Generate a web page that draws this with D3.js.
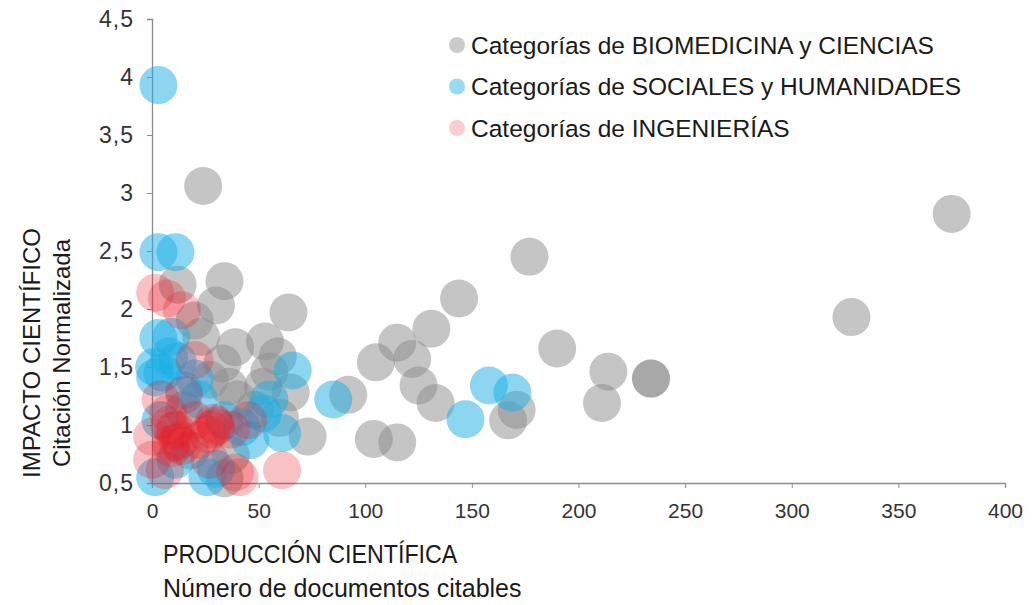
<!DOCTYPE html>
<html>
<head>
<meta charset="utf-8">
<script src="https://cdn.jsdelivr.net/npm/d3@7"></script>
<style>
  body { margin: 0; background: #fff; }
  .axis path, .axis line { stroke: #8c8c8c; }
  .y.axis text { font-family: "Liberation Sans", Arial, sans-serif; font-size: 23px; letter-spacing: 1px; fill: #333; }
  .x.axis text { font-family: "Liberation Sans", Arial, sans-serif; font-size: 21px; fill: #333; }
  .label { font-family: "Liberation Sans", Arial, sans-serif; font-size: 24px; fill: #1a1a1a; }
  .xlabel { font-family: "Liberation Sans", Arial, sans-serif; font-size: 25px; fill: #1a1a1a; }
  .legend text { font-family: "Liberation Sans", Arial, sans-serif; font-size: 24.5px; fill: #1a1a1a; }
</style>
</head>
<body>
<script>
// Set the dimensions of the canvas / graph
var margin = {top: 19, right: 30, bottom: 122, left: 152},
    width = 1035 - margin.left - margin.right,
    height = 605 - margin.top - margin.bottom;

// series names
var seriesNames = ["Categorías de BIOMEDICINA y CIENCIAS",
                   "Categorías de SOCIALES y HUMANIDADES",
                   "Categorías de INGENIERÍAS"];

// BIOMEDICINA y CIENCIAS: documentos citables / citación normalizada
var bioX = [24, 375, 177, 144, 328, 190, 131, 115, 122, 105, 125, 133, 92, 104, 115,
            214, 211, 234, 234, 171, 167, 64, 34, 12, 30, 53, 39, 59, 65, 52, 73,
            20, 23, 33, 36, 40, 55, 48, 27, 37, 34, 15, 18, 60];
var bioY = [3.06, 2.82, 2.45, 2.09, 1.93, 1.66, 1.83, 1.71, 1.57, 1.54, 1.34, 1.19, 1.26, 0.88, 0.85,
            1.46, 1.19, 1.40, 1.40, 1.13, 1.04, 1.97, 2.24, 2.21, 2.03, 1.72, 1.67, 1.59, 1.28, 1.33, 0.90,
            1.90, 1.76, 1.53, 1.33, 1.22, 1.46, 1.13, 1.39, 0.74, 0.54, 1.13, 0.78, 1.06];

// SOCIALES y HUMANIDADES
var socX = [3, 3, 11, 3, 9, 1, 8, 1.5, 15, 66, 85, 147, 158, 169, 52, 61, 46, 1.5, 26, 22, 4, 34, 11, 55, 30, 42, 5, 12, 20];
var socY = [3.93, 2.49, 2.49, 1.75, 1.76, 1.50, 1.59, 1.41, 1.30, 1.47, 1.22, 1.05, 1.34, 1.28, 1.10, 0.93, 0.87, 0.55, 0.55, 1.22, 1.04, 1.04, 0.70, 1.22, 0.62, 0.98, 1.45, 1.55, 1.40];

// INGENIERÍAS
var ingX = [1.5, 7, 14, 20, 7.5, 9, 28, 0, 0, 39, 61, 41, 37, 45, 13, 6, 20, 27, 4, 15, 11, 22, 9, 30, 10, 12, 30, 26, 8, 14, 29];
var ingY = [2.14, 2.09, 1.99, 1.56, 1.10, 0.84, 0.96, 0.90, 0.70, 0.59, 0.61, 0.55, 0.96, 1.04, 0.87, 0.61, 1.04, 0.70, 1.22, 1.26, 0.96, 0.87, 0.80, 1.00, 0.95, 0.85, 0.98, 0.92, 1.00, 0.82, 1.02];

var colors = ["#8c8c8c", "#1aaee6", "#e61e28"];
var opacities = [0.5, 0.5, 0.27];
var legendOpacities = [0.45, 0.45, 0.22];

var xTicks = [0, 50, 100, 150, 200, 250, 300, 350, 400];
var yTicks = [0.5, 1, 1.5, 2, 2.5, 3, 3.5, 4, 4.5];

// Set the ranges
var x = d3.scaleLinear().domain([0, 400]).range([0, width]);
var y = d3.scaleLinear().domain([0.5, 4.5]).range([height, 0]);

var fmt = function(d) { return String(d).replace(".", ","); };

var xAxis = d3.axisBottom(x).tickValues(xTicks).tickSize(5).tickPadding(15).tickFormat(fmt);
var yAxis = d3.axisLeft(y).tickValues(yTicks).tickSize(5).tickPadding(13).tickFormat(fmt);

// Adds the svg canvas
var svg = d3.select("body")
    .append("svg")
        .attr("width", width + margin.left + margin.right)
        .attr("height", height + margin.top + margin.bottom)
    .append("g")
        .attr("transform", "translate(" + margin.left + "," + margin.top + ")");

// Add the axes
svg.append("g")
    .attr("class", "x axis")
    .attr("transform", "translate(0," + height + ")")
    .call(xAxis);

svg.append("g")
    .attr("class", "y axis")
    .call(yAxis);

svg.selectAll(".axis .domain").attr("stroke-width", 1.3);

// bubbles
var series = [
    d3.zip(bioX, bioY),
    d3.zip(socX, socY),
    d3.zip(ingX, ingY)
];

series.forEach(function(data, i) {
    svg.append("g")
        .selectAll("circle")
        .data(data)
        .enter().append("circle")
            .attr("cx", function(d) { return x(d[0]); })
            .attr("cy", function(d) { return y(d[1]); })
            .attr("r", 19)
            .style("fill", colors[i])
            .style("fill-opacity", opacities[i]);
});

// legend
var legend = svg.append("g")
    .attr("class", "legend")
    .attr("transform", "translate(305,26)");

seriesNames.forEach(function(name, i) {
    var row = legend.append("g").attr("transform", "translate(0," + (i * 41.5) + ")");
    row.append("circle")
        .attr("r", 8)
        .style("fill", colors[i])
        .style("fill-opacity", legendOpacities[i]);
    row.append("text")
        .attr("x", 14)
        .attr("dy", "0.36em")
        .text(name);
});

// text label for the y axis
var yLabel = svg.append("text")
    .attr("class", "label")
    .attr("transform", "rotate(-90)")
    .style("text-anchor", "middle");
yLabel.append("tspan").attr("x", -334).attr("y", -112).text("IMPACTO CIENTÍFICO");
yLabel.append("tspan").attr("x", -334).attr("y", -82).text("Citación Normalizada");

// text label for the x axis (condensed look on the first line)
svg.append("text")
    .attr("class", "xlabel")
    .attr("transform", "translate(11," + (height + 80) + ") scale(0.93,1)")
    .text("PRODUCCIÓN CIENTÍFICA");
svg.append("text")
    .attr("class", "xlabel")
    .attr("transform", "translate(11," + (height + 114) + ")")
    .text("Número de documentos citables");
</script>
</body>
</html>
